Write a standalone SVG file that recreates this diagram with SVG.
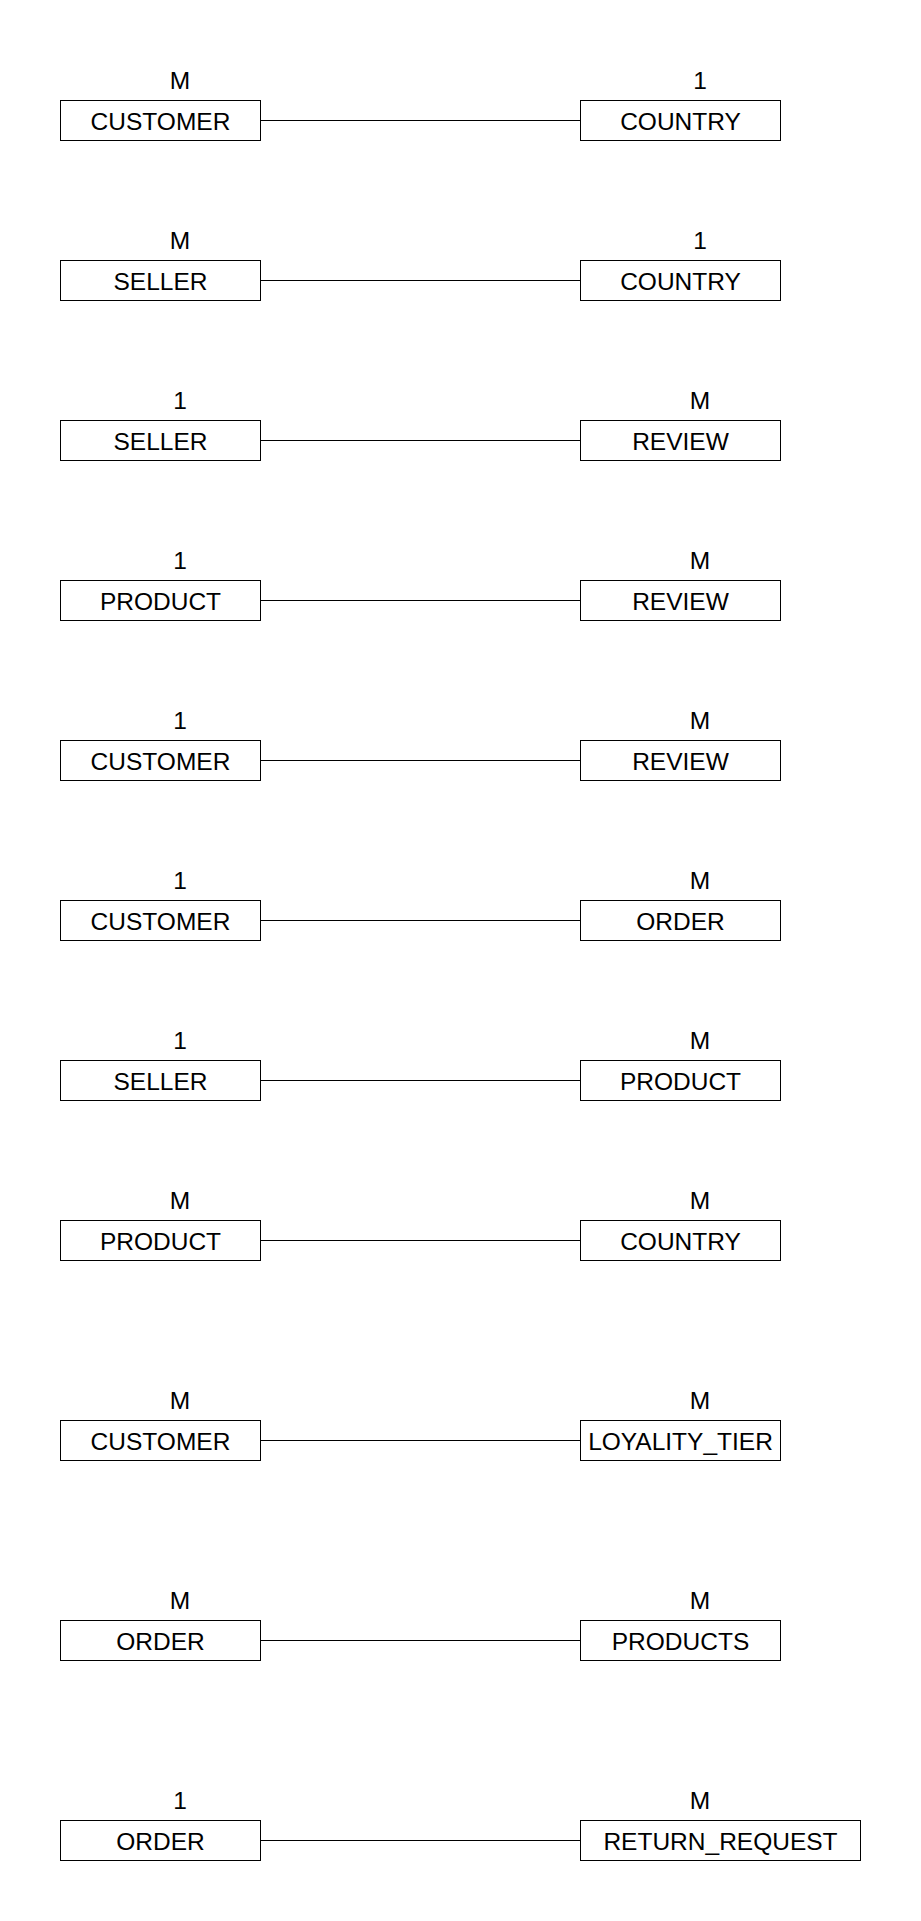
<svg xmlns="http://www.w3.org/2000/svg" width="921" height="1921" viewBox="0 0 921 1921">
<style>
.box{fill:#fff;stroke:#000;stroke-width:1}
.t{font-family:"Liberation Sans",Arial,sans-serif;font-size:24.5px;fill:#000;text-anchor:middle}
.c{stroke:#000;stroke-width:1;fill:none}
</style>
<rect width="921" height="1921" fill="#fff"/>
<g id="connectors">
<line class="c" x1="260.5" y1="120.5" x2="580.5" y2="120.5"/>
<line class="c" x1="260.5" y1="280.5" x2="580.5" y2="280.5"/>
<line class="c" x1="260.5" y1="440.5" x2="580.5" y2="440.5"/>
<line class="c" x1="260.5" y1="600.5" x2="580.5" y2="600.5"/>
<line class="c" x1="260.5" y1="760.5" x2="580.5" y2="760.5"/>
<line class="c" x1="260.5" y1="920.5" x2="580.5" y2="920.5"/>
<line class="c" x1="260.5" y1="1080.5" x2="580.5" y2="1080.5"/>
<line class="c" x1="260.5" y1="1240.5" x2="580.5" y2="1240.5"/>
<line class="c" x1="260.5" y1="1440.5" x2="580.5" y2="1440.5"/>
<line class="c" x1="260.5" y1="1640.5" x2="580.5" y2="1640.5"/>
<line class="c" x1="260.5" y1="1840.5" x2="580.5" y2="1840.5"/>
</g>
<g id="cardinality">
<text class="t" x="180" y="88.5">M</text><text class="t" x="700" y="88.5">1</text>
<text class="t" x="180" y="248.5">M</text><text class="t" x="700" y="248.5">1</text>
<text class="t" x="180" y="408.5">1</text><text class="t" x="700" y="408.5">M</text>
<text class="t" x="180" y="568.5">1</text><text class="t" x="700" y="568.5">M</text>
<text class="t" x="180" y="728.5">1</text><text class="t" x="700" y="728.5">M</text>
<text class="t" x="180" y="888.5">1</text><text class="t" x="700" y="888.5">M</text>
<text class="t" x="180" y="1048.5">1</text><text class="t" x="700" y="1048.5">M</text>
<text class="t" x="180" y="1208.5">M</text><text class="t" x="700" y="1208.5">M</text>
<text class="t" x="180" y="1408.5">M</text><text class="t" x="700" y="1408.5">M</text>
<text class="t" x="180" y="1608.5">M</text><text class="t" x="700" y="1608.5">M</text>
<text class="t" x="180" y="1808.5">1</text><text class="t" x="700" y="1808.5">M</text>
</g>
<g id="n1a"><rect class="box" x="60.5" y="100.5" width="200" height="40"/><text class="t" x="160.5" y="129.5">CUSTOMER</text></g>
<g id="n1b"><rect class="box" x="580.5" y="100.5" width="200" height="40"/><text class="t" x="680.5" y="129.5">COUNTRY</text></g>
<g id="n2a"><rect class="box" x="60.5" y="260.5" width="200" height="40"/><text class="t" x="160.5" y="289.5">SELLER</text></g>
<g id="n2b"><rect class="box" x="580.5" y="260.5" width="200" height="40"/><text class="t" x="680.5" y="289.5">COUNTRY</text></g>
<g id="n3a"><rect class="box" x="60.5" y="420.5" width="200" height="40"/><text class="t" x="160.5" y="449.5">SELLER</text></g>
<g id="n3b"><rect class="box" x="580.5" y="420.5" width="200" height="40"/><text class="t" x="680.5" y="449.5">REVIEW</text></g>
<g id="n4a"><rect class="box" x="60.5" y="580.5" width="200" height="40"/><text class="t" x="160.5" y="609.5">PRODUCT</text></g>
<g id="n4b"><rect class="box" x="580.5" y="580.5" width="200" height="40"/><text class="t" x="680.5" y="609.5">REVIEW</text></g>
<g id="n5a"><rect class="box" x="60.5" y="740.5" width="200" height="40"/><text class="t" x="160.5" y="769.5">CUSTOMER</text></g>
<g id="n5b"><rect class="box" x="580.5" y="740.5" width="200" height="40"/><text class="t" x="680.5" y="769.5">REVIEW</text></g>
<g id="n6a"><rect class="box" x="60.5" y="900.5" width="200" height="40"/><text class="t" x="160.5" y="929.5">CUSTOMER</text></g>
<g id="n6b"><rect class="box" x="580.5" y="900.5" width="200" height="40"/><text class="t" x="680.5" y="929.5">ORDER</text></g>
<g id="n7a"><rect class="box" x="60.5" y="1060.5" width="200" height="40"/><text class="t" x="160.5" y="1089.5">SELLER</text></g>
<g id="n7b"><rect class="box" x="580.5" y="1060.5" width="200" height="40"/><text class="t" x="680.5" y="1089.5">PRODUCT</text></g>
<g id="n8a"><rect class="box" x="60.5" y="1220.5" width="200" height="40"/><text class="t" x="160.5" y="1249.5">PRODUCT</text></g>
<g id="n8b"><rect class="box" x="580.5" y="1220.5" width="200" height="40"/><text class="t" x="680.5" y="1249.5">COUNTRY</text></g>
<g id="n9a"><rect class="box" x="60.5" y="1420.5" width="200" height="40"/><text class="t" x="160.5" y="1449.5">CUSTOMER</text></g>
<g id="n9b"><rect class="box" x="580.5" y="1420.5" width="200" height="40"/><text class="t" x="680.5" y="1449.5">LOYALITY_TIER</text></g>
<g id="n10a"><rect class="box" x="60.5" y="1620.5" width="200" height="40"/><text class="t" x="160.5" y="1649.5">ORDER</text></g>
<g id="n10b"><rect class="box" x="580.5" y="1620.5" width="200" height="40"/><text class="t" x="680.5" y="1649.5">PRODUCTS</text></g>
<g id="n11a"><rect class="box" x="60.5" y="1820.5" width="200" height="40"/><text class="t" x="160.5" y="1849.5">ORDER</text></g>
<g id="n11b"><rect class="box" x="580.5" y="1820.5" width="280" height="40"/><text class="t" x="720.5" y="1849.5">RETURN_REQUEST</text></g>
</svg>
